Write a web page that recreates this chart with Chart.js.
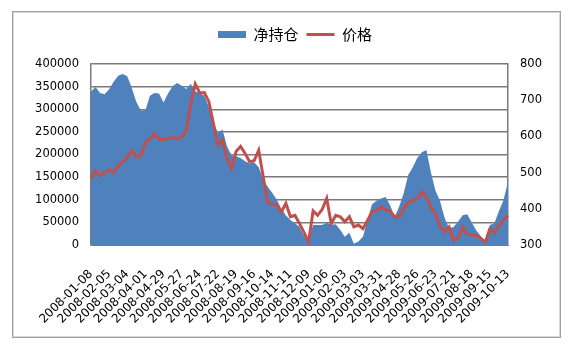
<!DOCTYPE html>
<html><head><meta charset="utf-8">
<script src="https://cdn.jsdelivr.net/npm/chart.js@4.4.1/dist/chart.umd.min.js"></script>
<style>html,body{margin:0;padding:0;background:#fff;}</style>
</head><body>
<canvas id="c" width="572" height="355"></canvas>
<script>
const dates = [
 '2008-01-08','2008-01-15','2008-01-22','2008-01-29','2008-02-05','2008-02-12','2008-02-19','2008-02-26',
 '2008-03-04','2008-03-11','2008-03-18','2008-03-25','2008-04-01','2008-04-08','2008-04-15','2008-04-22','2008-04-29',
 '2008-05-06','2008-05-13','2008-05-20','2008-05-27','2008-06-03','2008-06-10','2008-06-17','2008-06-24',
 '2008-07-01','2008-07-08','2008-07-15','2008-07-22','2008-07-29','2008-08-05','2008-08-12','2008-08-19','2008-08-26',
 '2008-09-02','2008-09-09','2008-09-16','2008-09-23','2008-09-30','2008-10-07','2008-10-14','2008-10-21','2008-10-28',
 '2008-11-04','2008-11-11','2008-11-18','2008-11-25','2008-12-02','2008-12-09','2008-12-16','2008-12-23','2008-12-30',
 '2009-01-06','2009-01-13','2009-01-20','2009-01-27','2009-02-03','2009-02-10','2009-02-17','2009-02-24',
 '2009-03-03','2009-03-10','2009-03-17','2009-03-24','2009-03-31','2009-04-07','2009-04-14','2009-04-21','2009-04-28',
 '2009-05-05','2009-05-12','2009-05-19','2009-05-26','2009-06-02','2009-06-09','2009-06-16','2009-06-23','2009-06-30',
 '2009-07-07','2009-07-14','2009-07-21','2009-07-28','2009-08-04','2009-08-11','2009-08-18','2009-08-25',
 '2009-09-01','2009-09-08','2009-09-15','2009-09-22','2009-09-29','2009-10-06','2009-10-13'
];
const tickLabels = [
 '2008-01-08','2008-02-05','2008-03-04','2008-04-01','2008-04-29','2008-05-27','2008-06-24','2008-07-22',
 '2008-08-19','2008-09-16','2008-10-14','2008-11-11','2008-12-09','2009-01-06','2009-02-03','2009-03-03',
 '2009-03-31','2009-04-28','2009-05-26','2009-06-23','2009-07-21','2009-08-18','2009-09-15','2009-10-13'
];
const netPosition = [
 339000,349000,336000,333000,344000,361000,374000,378000,373000,347000,
 316000,297000,298000,330000,336000,335000,315000,335000,351000,358000,
 352000,345000,356000,340000,336000,330000,305000,270000,248000,255000,
 218000,198000,196000,192000,185000,180000,183000,172000,145000,128000,
 115000,100000,80000,65000,55000,48000,40000,20000,10000,44000,
 44000,44000,49000,45000,46000,33000,18000,27000,3000,8000,
 18000,55000,90000,98000,103000,106000,88000,62000,85000,115000,
 155000,172000,193000,205000,210000,160000,120000,97000,60000,37000,
 40000,52000,66000,68000,50000,32000,20000,7000,44000,48000,
 75000,99000,140000
];
const price = [
 484,505,492,500,508,500,520,530,542,561,
 544,546,583,592,607,593,590,595,596,594,
 598,615,690,745,720,721,696,636,576,590,
 539,512,558,572,553,530,533,562,488,416,
 413,410,391,415,378,382,359,335,308,394,
 382,398,429,359,382,378,364,378,350,355,
 345,368,391,396,405,398,393,378,378,401,
 418,424,428,447,435,403,385,352,336,350,
 313,320,350,330,327,327,318,308,345,335,
 352,368,382
];
const seriesNames = ['净持仓','价格'];
const leftTicks = [0,50000,100000,150000,200000,250000,300000,350000,400000];
const rightTicks = [300,400,500,600,700,800];

const BLUE = '#4F81BD', RED = '#C0504D', GRID = '#7a7a7a';

// add extra space under the legend
const LegendEl = Chart.registry.getPlugin('legend')._element;
const origFit = LegendEl.prototype.fit;
LegendEl.prototype.fit = function(){ origFit.call(this); if (this.isHorizontal()) this.height += 12; };

const frame = {
  id: 'frame',
  afterDraw(chart){
    const ctx = chart.ctx;
    ctx.save();
    ctx.lineWidth = 1;
    ctx.strokeStyle = '#a0a0a0';
    ctx.strokeRect(12.5, 11.5, 548, 326);
    ctx.strokeStyle = '#d8d8d8';
    ctx.strokeRect(13.5, 12.5, 546, 324);
    ctx.restore();
  }
};

new Chart(document.getElementById('c'), {
  data: {
    labels: dates,
    datasets: [
      { type: 'line', label: seriesNames[0], data: netPosition, yAxisID: 'y',
        fill: 'origin', backgroundColor: BLUE, borderColor: BLUE, borderWidth: 0,
        pointRadius: 0, tension: 0, order: 2 },
      { type: 'line', label: seriesNames[1], data: price, yAxisID: 'y1',
        fill: false, borderColor: RED, borderWidth: 3, pointRadius: 0, tension: 0, order: 1 }
    ]
  },
  options: {
    responsive: false,
    devicePixelRatio: 1,
    animation: false,
    layout: { padding: { top: 19, left: 18, right: 0, bottom: 17 } },
    plugins: {
      tooltip: { enabled: false },
      legend: {
        position: 'top',
        labels: {
          usePointStyle: true, pointStyleWidth: 28, boxHeight: 7, padding: 8, color: '#000',
          font: { family: '"Noto Sans CJK SC", sans-serif', size: 15 },
          generateLabels(chart){
            return [
              { text: seriesNames[0], fillStyle: BLUE, strokeStyle: BLUE, lineWidth: 0, pointStyle: 'rect', datasetIndex: 0, hidden: false },
              { text: seriesNames[1], fillStyle: RED, strokeStyle: RED, lineWidth: 3, pointStyle: 'line', datasetIndex: 1, hidden: false }
            ];
          }
        }
      }
    },
    scales: {
      x: {
        type: 'category', offset: false,
        grid: { display: false, drawTicks: false },
        border: { display: true, color: GRID, width: 1 },
        afterFit(s){ s.height = 93; },
        ticks: {
          autoSkip: false, minRotation: 45, maxRotation: 45, padding: 22, color: '#000',
          font: { family: '"DejaVu Sans", sans-serif', size: 12 },
          callback(v, i){ return tickLabels.includes(dates[i]) ? dates[i] : ''; }
        }
      },
      y: {
        position: 'left', min: 0, max: 400000,
        afterFit(s){ s.width = 73; },
        afterBuildTicks(s){ s.ticks = leftTicks.map(v => ({value: v})); },
        grid: { display: true, color: GRID, lineWidth: 1.5, drawTicks: false, drawOnChartArea: true },
        border: { display: true, color: GRID, width: 1.5 },
        ticks: { padding: 12, color: '#000', font: { family: '"DejaVu Sans", sans-serif', size: 11.5 },
          callback(v){ return String(v); } }
      },
      y1: {
        position: 'right', min: 300, max: 800,
        afterFit(s){ s.width = 64; },
        afterBuildTicks(s){ s.ticks = rightTicks.map(v => ({value: v})); },
        grid: { display: false, drawTicks: false },
        border: { display: true, color: GRID, width: 1.5 },
        ticks: { padding: 12, color: '#000', font: { family: '"DejaVu Sans", sans-serif', size: 11.5 },
          callback(v){ return String(v); } }
      }
    }
  },
  plugins: [frame]
});
</script>
</body></html>
